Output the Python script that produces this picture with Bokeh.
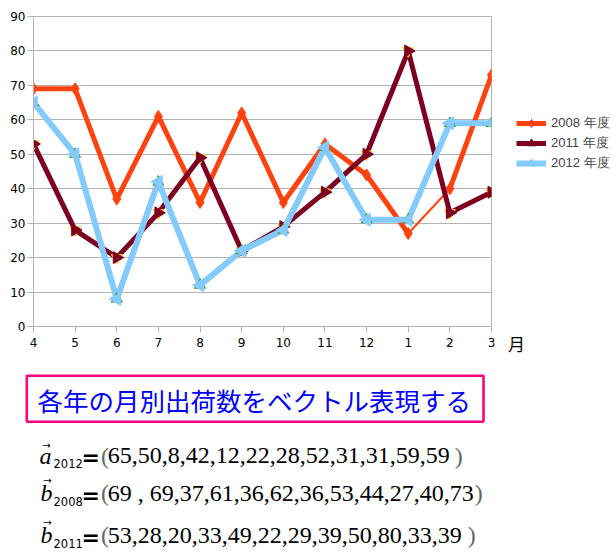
import math
from bokeh.plotting import figure
from bokeh.models import Range1d, FixedTicker, Legend, LegendItem
from bokeh.layouts import column, row
from bokeh.embed import file_html
from bokeh.resources import INLINE
from bokeh.core.properties import value

# ---------------- data ----------------
months = ["4", "5", "6", "7", "8", "9", "10", "11", "12", "1", "2", "3"]
b2008 = [69, 69, 37, 61, 36, 62, 36, 53, 44, 27, 40, 73]
b2011 = [53, 28, 20, 33, 49, 22, 29, 39, 50, 80, 33, 39]
a2012 = [65, 50, 8, 42, 12, 22, 28, 52, 31, 31, 59, 59]
series_names = ["2008 年度", "2011 年度", "2012 年度"]
y_ticks = [0, 10, 20, 30, 40, 50, 60, 70, 80, 90]
x_unit_label = "月"
title_text = "各年の月別出荷数をベクトル表現する"

C2008 = "#FF420E"
C2011 = "#7E0021"
C2012 = "#83CAFF"
CYEL = "#FFD320"
CGRN = "#579D1C"
GRID = "#B3B3B3"

x = list(range(len(months)))

# ---------------- chart ----------------
p = figure(width=498, height=360, x_range=Range1d(0, len(months) - 1), y_range=Range1d(0, 90),
           output_backend="svg", toolbar_location=None,
           min_border_left=33, min_border_right=7, min_border_top=16, min_border_bottom=34)
p.frame_align = False
p.background_fill_color = "white"
p.border_fill_color = "white"
p.outline_line_color = GRID
p.xgrid.grid_line_color = None
p.ygrid.grid_line_color = GRID
p.ygrid.ticker = FixedTicker(ticks=y_ticks)

p.xaxis.ticker = FixedTicker(ticks=x)
p.xaxis.major_label_overrides = {i: m for i, m in enumerate(months)}
p.yaxis.ticker = FixedTicker(ticks=y_ticks)
for ax in (p.xaxis, p.yaxis):
    ax.axis_line_color = GRID
    ax.major_tick_line_color = GRID
    ax.minor_tick_line_color = None
    ax.major_tick_in = 0
    ax.major_tick_out = 6
    ax.major_label_text_font = "DejaVu Sans"
    ax.major_label_text_font_size = "12px"
    ax.major_label_text_color = "black"
p.xaxis.major_label_standoff = 5
p.yaxis.major_label_standoff = 2

STY08 = dict(line_color=C2008, line_width=5, line_join="round")
STY11 = dict(line_color=C2011, line_width=5, line_join="round")
STY12 = dict(line_color=C2012, line_width=6, line_join="round")
MK08 = dict(marker="diamond", size=12, color=C2008)
MK11 = dict(marker="triangle", size=12, angle=-math.pi / 2, color=C2011)
MK12 = dict(marker="triangle", size=13, angle=math.pi / 2, color=C2012)

# 2008 : thick except the 1 -> 2 segment
p.line(x[:10], b2008[:10], **STY08)
p.line(x[9:11], b2008[9:11], line_color=C2008, line_width=2)
p.line(x[10:], b2008[10:], **STY08)
p.scatter(x, b2008, **MK08)

# 2011
p.line(x, b2011, **STY11)
p.scatter(x, b2011, marker="inverted_triangle", size=11, color=CYEL)
p.scatter(x, b2011, **MK11)

# 2012
p.line(x, a2012, **STY12)
p.scatter(x, a2012, marker="triangle", size=11, color=CGRN)
p.scatter(x, a2012, **MK12)

# ---------------- right strip: legend + unit ----------------
# ranges of this strip are in page pixels, so the series' own values fall outside it;
# its renderers only serve as legend samples
r = figure(width=118, height=360, x_range=Range1d(498, 616), y_range=Range1d(360, 0),
           output_backend="svg", toolbar_location=None, min_border=0,
           x_axis_location=None, y_axis_location=None)
r.frame_align = False
r.grid.visible = False
r.outline_line_color = None
r.background_fill_color = "white"
r.border_fill_color = "white"

items = []
for name, vals, sty, mk in zip(series_names, (b2008, b2011, a2012), (STY08, STY11, STY12), (MK08, MK11, MK12)):
    lr = r.line(x, vals, **sty)
    sr = r.scatter(x, vals, **mk)
    items.append(LegendItem(label=name, renderers=[lr, sr]))
legend = Legend(items=items, location=(18, 187))
legend.border_line_color = None
legend.background_fill_alpha = 0
legend.padding = 0
legend.margin = 0
legend.spacing = 0
legend.glyph_width = 30
legend.glyph_height = 20
legend.label_height = 20
legend.label_standoff = 5
legend.label_text_font = "Liberation Sans"
legend.label_text_font_size = "13px"
r.add_layout(legend)

r.text(x=[516], y=[342.5], text=[x_unit_label], text_font=value("Noto Sans CJK JP"),
       text_font_size=value("17px"), text_color="black", text_align="center", text_baseline="middle")

# ---------------- text panel ----------------
q = figure(width=616, height=198, x_range=Range1d(0, 616), y_range=Range1d(198, 0),
           output_backend="svg", toolbar_location=None, min_border=0,
           x_axis_location=None, y_axis_location=None)
q.frame_align = False
q.grid.visible = False
q.outline_line_color = None
q.background_fill_color = "white"
q.border_fill_color = "white"

q.quad(left=[26.3], right=[483], top=[15.3], bottom=[61.3], fill_color=None,
       line_color="#FF007F", line_width=2.6)
q.text(x=[37], y=[38.5], text=[title_text], text_font=value("Noto Sans CJK JP"),
       text_font_size=value("25.5px"), text_color="#0000FF", text_align="left", text_baseline="middle")

vec_letters = ["a", "b", "b"]
vec_years = ["2012", "2008", "2011"]
vec_values = [a2012, b2008, b2011]
num_strings = []
for yr, vals in zip(vec_years, vec_values):
    if yr == "2008":
        num_strings.append(f"{vals[0]} , " + ",".join(str(v) for v in vals[1:]))
    else:
        num_strings.append(",".join(str(v) for v in vals))

mid = [95, 132.5, 174.5]
close_x = [454.3, 474.3, 467.3]
arrow_y = [84.5, 119.5, 161.5]

q.text(x=[39, 40, 40], y=mid, text=vec_letters, text_font=value("Liberation Serif"),
       text_font_style="italic", text_font_size=value("24px"), text_color="black",
       text_align="left", text_baseline="middle")
q.text(x=[46, 47, 47], y=arrow_y, text=["→", "→", "→"],
       text_font=value("DejaVu Sans"), text_font_size=value("10px"), text_color="black",
       text_align="center", text_baseline="middle")
q.text(x=[53, 53, 53], y=[m + 8 for m in mid], text=vec_years, text_font=value("DejaVu Sans"),
       text_font_size=value("11.5px"), text_color="black", text_align="left", text_baseline="middle")
q.text(x=[81, 81, 81], y=[m + 2 for m in mid], text=["=", "=", "="], text_font=value("DejaVu Sans"),
       text_font_style="bold", text_font_size=value("22px"), text_color="black",
       text_align="left", text_baseline="middle")
q.text(x=[100.5] * 3, y=mid, text=["("] * 3, text_font=value("Liberation Serif"),
       text_font_size=value("24px"), text_color="#666666", text_align="left", text_baseline="middle")
q.text(x=[107.3] * 3, y=mid, text=num_strings, text_font=value("Liberation Serif"),
       text_font_size=value("24px"), text_color="black", text_align="left", text_baseline="middle")
q.text(x=close_x, y=mid, text=[")"] * 3, text_font=value("Liberation Serif"),
       text_font_size=value("24px"), text_color="#666666", text_align="left", text_baseline="middle")

layout = column(row(p, r, spacing=0), q, spacing=0)
open("out.html", "w").write(file_html(layout, INLINE))
